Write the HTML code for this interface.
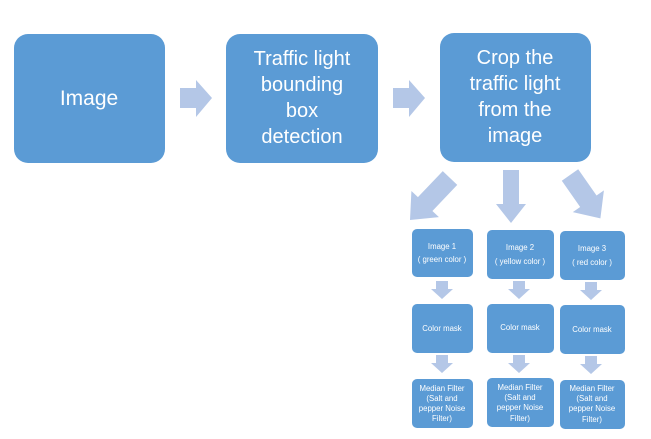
<!DOCTYPE html>
<html><head><meta charset="utf-8"><style>
html,body{margin:0;padding:0;background:#fff;}
svg{display:block;}
text{font-family:"Liberation Sans",sans-serif;fill:#fff;text-anchor:middle;}
</style></head><body>
<svg width="651" height="439" viewBox="0 0 651 439" xmlns="http://www.w3.org/2000/svg">
<g fill="#5b9bd5">
<rect x="14" y="34" width="151" height="129" rx="14"/>
<rect x="226" y="34" width="152" height="129" rx="14"/>
<rect x="440" y="33" width="151" height="129" rx="14"/>
<rect x="412" y="229" width="61" height="48" rx="5"/>
<rect x="487" y="230" width="67" height="49" rx="5"/>
<rect x="560" y="231" width="65" height="49" rx="5"/>
<rect x="412" y="304" width="61" height="49" rx="5"/>
<rect x="487" y="304" width="67" height="49" rx="5"/>
<rect x="560" y="305" width="65" height="49" rx="5"/>
<rect x="412" y="379" width="61" height="49" rx="5"/>
<rect x="487" y="378" width="67" height="49" rx="5"/>
<rect x="560" y="380" width="65" height="49" rx="5"/>
</g>
<g fill="#b4c7e7">
<polygon points="180,88 196,88 196,80 212,98 196,117 196,108 180,108"/>
<polygon points="393,88 409,88 409,80 425,98 409,117 409,108 393,108"/>
<g transform="translate(450,178) rotate(133.6)"><polygon points="0,-10 36,-10 36,-19 58,0 36,19 36,10 0,10"/></g>
<g transform="translate(511,170) rotate(90)"><polygon points="0,-8 34,-8 34,-15 53,0 34,15 34,8 0,8"/></g>
<g transform="translate(570,175) rotate(55)"><polygon points="0,-10 32,-10 32,-19 53,0 32,19 32,10 0,10"/></g>
<g id="sa"><polygon points="436,281 448,281 448,289 453,289 442,299 431,289 436,289"/></g>
<use href="#sa" x="77" y="0"/>
<use href="#sa" x="149" y="1"/>
<use href="#sa" x="0" y="74"/>
<use href="#sa" x="77" y="74"/>
<use href="#sa" x="149" y="75"/>
</g>
<text x="89" y="105" font-size="21">Image</text>
<text font-size="20"><tspan x="302" y="65">Traffic light</tspan><tspan x="302" y="91">bounding</tspan><tspan x="302" y="117">box</tspan><tspan x="302" y="143">detection</tspan></text>
<text font-size="20"><tspan x="515" y="64">Crop the</tspan><tspan x="515" y="90">traffic light</tspan><tspan x="515" y="116">from the</tspan><tspan x="515" y="142">image</tspan></text>
<g font-size="7.8">
<text x="442" y="249">Image 1</text><text x="442" y="262">( green color )</text>
<text x="520" y="250">Image 2</text><text x="520" y="264">( yellow color )</text>
<text x="592" y="251">Image 3</text><text x="592" y="265">( red color )</text>
<text x="442" y="331">Color mask</text>
<text x="520" y="330">Color mask</text>
<text x="592" y="332">Color mask</text>
<text x="442" y="391">Median Filter</text><text x="442" y="401">(Salt and</text><text x="442" y="411">pepper Noise</text><text x="442" y="421">Filter)</text>
<text x="520" y="390">Median Filter</text><text x="520" y="400">(Salt and</text><text x="520" y="410">pepper Noise</text><text x="520" y="421">Filter)</text>
<text x="592" y="391">Median Filter</text><text x="592" y="401">(Salt and</text><text x="592" y="411">pepper Noise</text><text x="592" y="422">Filter)</text>
</g>
</svg>
</body></html>
